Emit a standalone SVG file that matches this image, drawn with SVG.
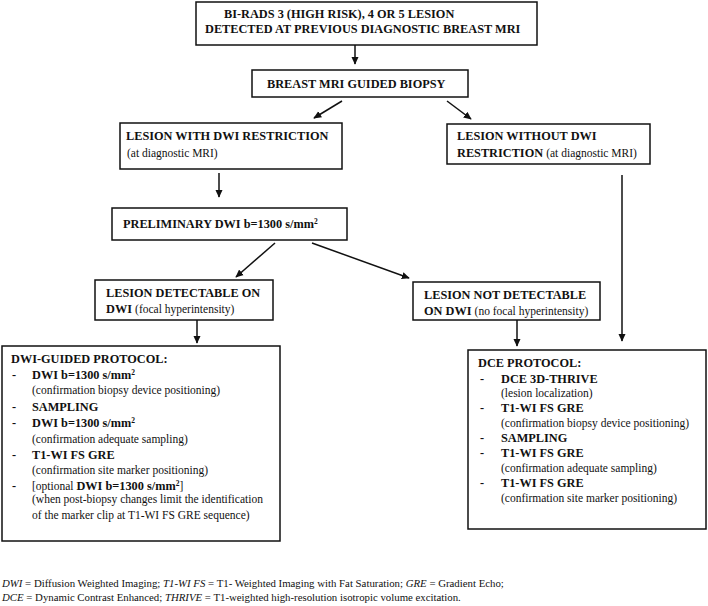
<svg xmlns="http://www.w3.org/2000/svg" width="708" height="606" viewBox="0 0 708 606">
<style>
.box{fill:#fff;stroke:#111;stroke-width:1.5}
.b{font-family:"Liberation Serif",serif;font-weight:bold;font-size:12.3px;fill:#111}
.n{font-family:"Liberation Serif",serif;font-weight:normal;font-size:11.5px;fill:#111}
.f{font-family:"Liberation Serif",serif;font-size:10.8px;fill:#111}
.i{font-style:italic}
.s{font-size:7.5px}
.c{stroke:#111;stroke-width:1.5;fill:none;marker-end:url(#ah)}
</style>
<defs>
<marker id="ah" viewBox="0 0 10 10" refX="9" refY="5" markerWidth="8" markerHeight="8" orient="auto" markerUnits="userSpaceOnUse">
<path d="M0,0.5 L10,5 L0,9.5 z" fill="#111"/>
</marker>
</defs>
<rect width="708" height="606" fill="#fff"/>
<g id="connectors">
<line class="c" x1="355" y1="45" x2="355" y2="64"/>
<line class="c" x1="342" y1="101" x2="314" y2="118"/>
<line class="c" x1="447" y1="101" x2="471" y2="119"/>
<line class="c" x1="219" y1="173" x2="219" y2="197"/>
<line class="c" x1="275" y1="243" x2="236" y2="277"/>
<line class="c" x1="312" y1="243" x2="409" y2="278"/>
<line class="c" x1="622" y1="175" x2="622" y2="341"/>
<line class="c" x1="197" y1="320" x2="197" y2="343"/>
<line class="c" x1="517" y1="320" x2="517" y2="346"/>
</g>
<g id="n1">
<rect class="box" x="196" y="2" width="341" height="43"/>
<text class="b" x="224" y="18">BI-RADS 3 (HIGH RISK), 4 OR 5 LESION</text>
<text class="b" x="205" y="33">DETECTED AT PREVIOUS DIAGNOSTIC BREAST MRI</text>
</g>
<g id="n2">
<rect class="box" x="252" y="70" width="216" height="27"/>
<text class="b" x="267" y="88">BREAST MRI GUIDED BIOPSY</text>
</g>
<g id="n3">
<rect class="box" x="120" y="123" width="222" height="46"/>
<text class="b" x="126" y="140">LESION WITH DWI RESTRICTION</text>
<text class="n" x="127" y="157">(at diagnostic MRI)</text>
</g>
<g id="n4">
<rect class="box" x="447" y="124" width="203" height="40"/>
<text class="b" x="457" y="140">LESION WITHOUT DWI</text>
<text class="b" x="457" y="157">RESTRICTION <tspan class="n">(at diagnostic MRI)</tspan></text>
</g>
<g id="n5">
<rect class="box" x="112" y="208" width="235" height="32"/>
<text class="b" x="123" y="228">PRELIMINARY DWI b=1300 s/mm<tspan class="s" dy="-4">2</tspan></text>
</g>
<g id="n6">
<rect class="box" x="95" y="280" width="178" height="40"/>
<text class="b" x="106" y="297">LESION DETECTABLE ON</text>
<text class="b" x="106" y="313">DWI <tspan class="n">(focal hyperintensity)</tspan></text>
</g>
<g id="n7">
<rect class="box" x="413" y="282" width="187" height="38"/>
<text class="b" x="424" y="299">LESION NOT DETECTABLE</text>
<text class="b" x="424" y="315">ON DWI <tspan class="n">(no focal hyperintensity)</tspan></text>
</g>
<g id="n8">
<rect class="box" x="2" y="346" width="278" height="195"/>
<text class="b" x="11" y="363">DWI-GUIDED PROTOCOL:</text>
<text class="b" x="12" y="379">-</text><text class="b" x="32" y="379">DWI b=1300 s/mm<tspan class="s" dy="-4">2</tspan></text>
<text class="n" x="32" y="394">(confirmation biopsy device positioning)</text>
<text class="b" x="12" y="411">-</text><text class="b" x="32" y="411">SAMPLING</text>
<text class="b" x="12" y="427">-</text><text class="b" x="32" y="427">DWI b=1300 s/mm<tspan class="s" dy="-4">2</tspan></text>
<text class="n" x="32" y="443">(confirmation adequate sampling)</text>
<text class="b" x="12" y="459">-</text><text class="b" x="32" y="459">T1-WI FS GRE</text>
<text class="n" x="32" y="474">(confirmation site marker positioning)</text>
<text class="b" x="12" y="490">-</text><text class="n" x="32" y="490">[optional <tspan class="b">DWI b=1300 s/mm<tspan class="s" dy="-4">2</tspan></tspan><tspan dy="4">]</tspan></text>
<text class="n" x="32" y="503">(when post-biopsy changes limit the identification</text>
<text class="n" x="32" y="519">of the marker clip at T1-WI FS GRE sequence)</text>
</g>
<g id="n9">
<rect class="box" x="468" y="350" width="238" height="179"/>
<text class="b" x="478" y="367">DCE PROTOCOL:</text>
<text class="b" x="480" y="383">-</text><text class="b" x="501" y="383">DCE 3D-THRIVE</text>
<text class="n" x="501" y="397">(lesion localization)</text>
<text class="b" x="480" y="412">-</text><text class="b" x="501" y="412">T1-WI FS GRE</text>
<text class="n" x="501" y="427">(confirmation biopsy device positioning)</text>
<text class="b" x="480" y="442">-</text><text class="b" x="501" y="442">SAMPLING</text>
<text class="b" x="480" y="457">-</text><text class="b" x="501" y="457">T1-WI FS GRE</text>
<text class="n" x="501" y="472">(confirmation adequate sampling)</text>
<text class="b" x="480" y="487">-</text><text class="b" x="501" y="487">T1-WI FS GRE</text>
<text class="n" x="501" y="502">(confirmation site marker positioning)</text>
</g>
<g id="legend">
<text class="f" x="2" y="587"><tspan class="i">DWI</tspan> = Diffusion Weighted Imaging; <tspan class="i">T1-WI FS</tspan> = T1- Weighted Imaging with Fat Saturation; <tspan class="i">GRE</tspan> = Gradient Echo;</text>
<text class="f" x="2" y="601"><tspan class="i">DCE</tspan> = Dynamic Contrast Enhanced; <tspan class="i">THRIVE</tspan> = T1-weighted high-resolution isotropic volume excitation.</text>
</g>
</svg>
